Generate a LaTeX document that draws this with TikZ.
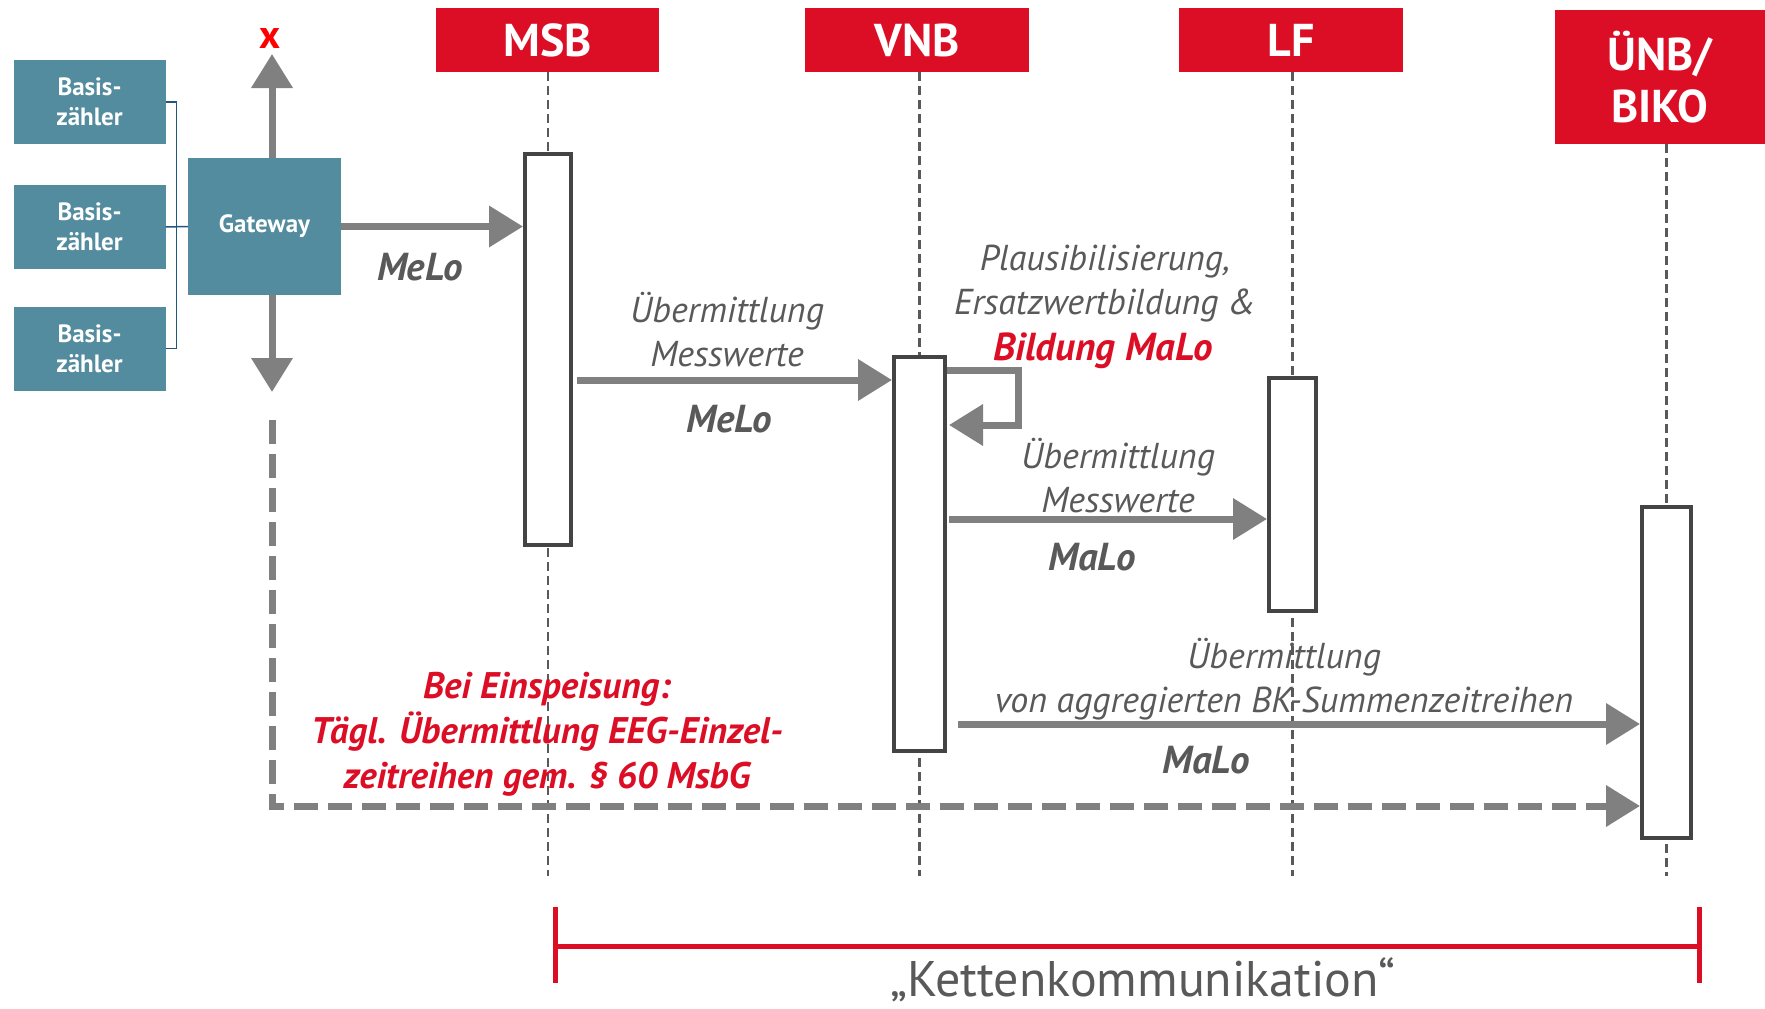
\documentclass[tikz,border=0pt]{standalone}
\usepackage{fontspec}
\setmainfont{PT Sans}
\usetikzlibrary{arrows.meta,calc}
\definecolor{hdrred}{RGB}{220,14,37}
\definecolor{tealbox}{RGB}{83,140,158}
\definecolor{arrgray}{RGB}{128,128,128}
\definecolor{txtgray}{RGB}{89,89,89}
\definecolor{boxgray}{RGB}{68,68,68}
\definecolor{bracketblue}{RGB}{31,86,130}
\definecolor{xred}{RGB}{255,0,0}
\tikzset{
  hdr/.style={fill=hdrred, text=white, font=\fontsize{46}{52}\selectfont\bfseries, inner sep=0pt, align=center},
  actbox/.style={draw=boxgray, line width=4pt, fill=white, inner sep=0pt},
  basis/.style={fill=tealbox, text=white, font=\fontsize{25}{30}\selectfont\bfseries, align=center, inner sep=0pt, minimum width=152pt, minimum height=84pt},
  garrow/.style={draw=arrgray, line width=7pt, -{Triangle[length=34pt,width=40pt]}},
  lifeline/.style={draw=txtgray, line width=2.5pt, dash pattern=on 9pt off 5pt},
  lbl/.style={text=txtgray, font=\fontsize{36}{44}\selectfont\itshape, align=center, inner sep=0pt},
  lblb/.style={text=txtgray, font=\fontsize{39}{44}\selectfont\bfseries\itshape, inner sep=0pt},
  redlbl/.style={text=hdrred, font=\fontsize{37}{45}\selectfont\bfseries\itshape, align=center, inner sep=0pt},
  bracketline/.style={draw=bracketblue, line width=1.5pt},
  redbracket/.style={draw=hdrred, line width=5pt}
}
\begin{document}
\begin{tikzpicture}[x=1pt,y=-1pt]
\useasboundingbox (0,0) rectangle (1765,1009);
% headers
\node[hdr, minimum width=223pt, minimum height=64pt] (msb) at (547.5,40) {MSB};
\node[hdr, minimum width=224pt, minimum height=64pt] (vnb) at (917,40) {VNB};
\node[hdr, minimum width=224pt, minimum height=64pt] (lf) at (1291,40) {LF};
\node[hdr, minimum width=210pt, minimum height=134pt] (unb) at (1660,77) {ÜNB/\\BIKO};
% lifeline ends
\coordinate (endmsb) at (548,876);
\coordinate (endvnb) at (919.5,876);
\coordinate (endlf) at (1292.5,876);
\coordinate (endunb) at (1666.5,876);
\draw[lifeline] (msb.south -| endmsb) -- (endmsb);
\draw[lifeline] (vnb.south -| endvnb) -- (endvnb);
\draw[lifeline] (lf.south -| endlf) -- (endlf);
\draw[lifeline] (unb.south -| endunb) -- (endunb);
% activation boxes
\node[actbox, minimum width=46pt, minimum height=391pt] (actmsb) at (548,349.5) {};
\node[actbox, minimum width=51pt, minimum height=394pt] (actvnb) at (919.5,554) {};
\node[actbox, minimum width=47pt, minimum height=233pt] (actlf) at (1292.5,494.5) {};
\node[actbox, minimum width=49pt, minimum height=331pt] (actunb) at (1666.5,672.5) {};
% basis meters and gateway
\node[basis] (b1) at (89.5,102) {Basis-\\zähler};
\node[basis] (b2) at (89.5,227) {Basis-\\zähler};
\node[basis] (b3) at (89.5,348.5) {Basis-\\zähler};
\node[basis, minimum width=153pt, minimum height=137pt] (gw) at (264.5,226.5) {Gateway};
\coordinate (brk) at (176.5,0);
\draw[bracketline] (b1.east) -- (b1.east -| brk) -- (b3.east -| brk) -- (b3.east);
\draw[bracketline] (b2.east) -- (gw.west);
% gateway arrows
\coordinate (gwtop) at (272,158);
\coordinate (gwbot) at (272,295);
\coordinate (xtip) at (272,54);
\coordinate (btip) at (272,392);
\node[text=xred, font=\fontsize{40}{40}\selectfont\bfseries, inner sep=0pt] (xmark) at (270,38) {x};
\draw[garrow] (gwtop) -- (xtip);
\draw[garrow] (gwbot) -- (btip);
\draw[garrow] (gw.east) -- (gw.east -| actmsb.west);
\node[lblb] (melo1) at (420,267) {MeLo};
% MSB -> VNB
\coordinate (y1) at (0,380);
\draw[garrow] ($(actmsb.east |- y1)+(4,0)$) -- (actvnb.west |- y1);
\node[lbl] (t1) at (727,330) {Übermittlung\\Messwerte};
\node[lblb] (melo2) at (729,419) {MeLo};
% self loop
\coordinate (ls) at (0,370);
\coordinate (le) at (0,425);
\coordinate (lx) at (1018,0);
\draw[garrow] (actvnb.east |- ls) -- (lx |- ls) -- (lx |- le) -- ($(actvnb.east |- le)+(2,0)$);
\node[lbl] (t2) at (1105,284) {Plausibilisierung,\\Ersatzwertbildung \&};
\node[redlbl, font=\fontsize{39}{44}\selectfont\bfseries\itshape] (t2b) at (1103,351) {Bildung MaLo};
% VNB -> LF
\coordinate (y2) at (0,519);
\draw[garrow] ($(actvnb.east |- y2)+(2,0)$) -- (actlf.west |- y2);
\node[lbl] (t3) at (1118,476) {Übermittlung\\Messwerte};
\node[lblb] (malo1) at (1092,557) {MaLo};
% VNB -> UNB
\coordinate (y3) at (0,724);
\draw[garrow] ($(actvnb.east |- y3)+(11,0)$) -- (actunb.west |- y3);
\node[lbl] (t4) at (1284,679) {Übermittlung\\von aggregierten BK-Summenzeitreihen};
\node[lblb] (malo2) at (1206,760) {MaLo};
% dashed feed-in
\coordinate (ds) at (272,420);
\coordinate (dc) at (272,806);
\draw[garrow, dash pattern=on 24pt off 10pt] (ds) -- (dc) -- (actunb.west |- dc);
\node[redlbl] (t5) at (547,734) {Bei Einspeisung:\\Tägl. Übermittlung EEG-Einzel-\\zeitreihen gem. § 60 MsbG};
% chain bracket
\coordinate (kl) at (555,946);
\coordinate (kr) at (1699,946);
\draw[redbracket] (kl) -- (kr);
\draw[redbracket] ($(kl)+(0,-39)$) -- ($(kl)+(0,37)$);
\draw[redbracket] ($(kr)+(0,-39)$) -- ($(kr)+(0,37)$);
\node[text=txtgray, font=\fontsize{50}{50}\selectfont, inner sep=0pt, anchor=base] (kk) at (1143,996) {„Kettenkommunikation“};
\end{tikzpicture}
\end{document}
